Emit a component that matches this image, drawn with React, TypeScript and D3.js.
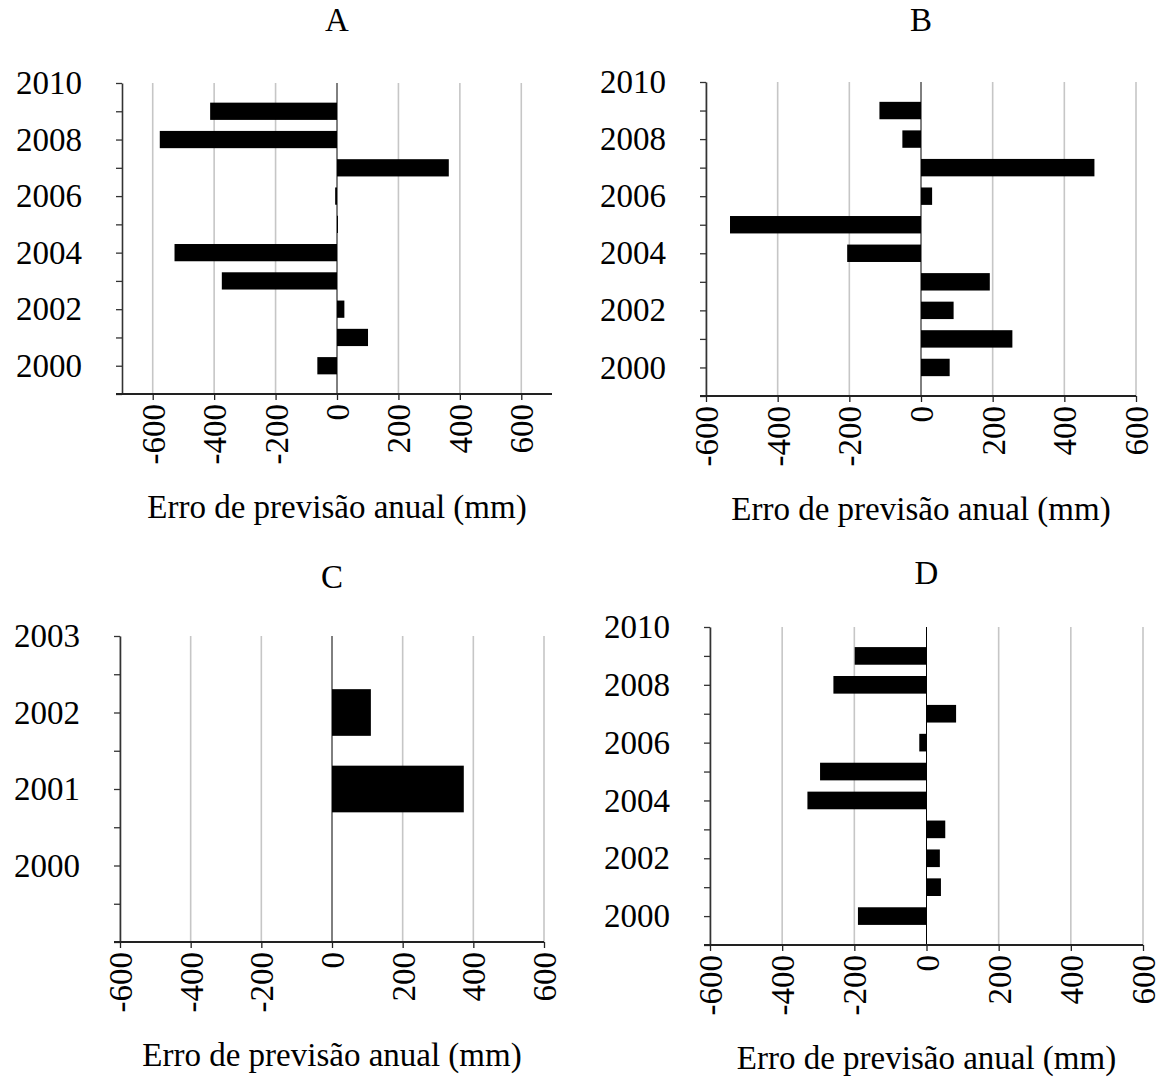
import React, { useEffect, useRef } from "react";
import * as d3 from "d3";

const width = 1161;
const height = 1080;
const font = "'Liberation Serif', 'Times New Roman', serif";

// annual forecast error (mm), one bar per year
const years = [2000, 2001, 2002, 2003, 2004, 2005, 2006, 2007, 2008, 2009];
const errorsA = [-64, 101, 24, -375, -529, 3, -6, 364, -577, -413];
const errorsB = [80, 255, 91, 192, -206, -533, 31, 484, -52, -116];
const yearsC = [2001, 2002];
const errorsC = [373, 110];
const errorsD = [-190, 40, 37, 52, -330, -295, -20, 82, -258, -199];

const xTicks = [-600, -400, -200, 0, 200, 400, 600];
const yearLabels = [2000, 2002, 2004, 2006, 2008, 2010];
const yearLabelsC = [2000, 2001, 2002, 2003];
const xTitle = "Erro de previsão anual (mm)";

const panels = [
  {
    title: "A", years, values: errorsA, xDomain: [-700, 700], yDomain: [1999, 2010],
    yStep: 1, labels: yearLabels, box: { left: 122, right: 552, top: 83, bottom: 394 }, titleY: 31,
  },
  {
    title: "B", years, values: errorsB, xDomain: [-600, 600], yDomain: [1999, 2010],
    yStep: 1, labels: yearLabels, box: { left: 706, right: 1136, top: 82, bottom: 396 }, titleY: 31,
  },
  {
    title: "C", years: yearsC, values: errorsC, xDomain: [-600, 600], yDomain: [1999, 2003],
    yStep: 0.5, labels: yearLabelsC, box: { left: 120, right: 544, top: 636, bottom: 942 }, titleY: 588,
  },
  {
    title: "D", years, values: errorsD, xDomain: [-600, 600], yDomain: [1999, 2010],
    yStep: 1, labels: yearLabels, box: { left: 710, right: 1143, top: 627, bottom: 945 }, titleY: 584,
  },
];

function Panel({ cfg }) {
  const ref = useRef(null);

  useEffect(() => {
    const g = d3.select(ref.current);
    g.selectAll("*").remove();
    const { left, right, top, bottom } = cfg.box;

    const x = d3.scaleLinear().domain(cfg.xDomain).range([left, right]);
    const y = d3.scaleLinear().domain(cfg.yDomain).range([bottom, top]);
    const yearBand = y(cfg.yDomain[0]) - y(cfg.yDomain[0] + 1);
    const barH = yearBand * 0.61;

    // vertical gridlines
    g.append("g")
      .selectAll("line")
      .data(xTicks.filter((t) => t !== 0))
      .join("line")
      .attr("x1", (d) => x(d))
      .attr("x2", (d) => x(d))
      .attr("y1", top)
      .attr("y2", bottom)
      .attr("stroke", "#c6c6c6")
      .attr("stroke-width", 1.6);

    // bars
    const rows = cfg.years.map((yr, i) => ({ yr, v: cfg.values[i] }));
    g.append("g")
      .selectAll("rect")
      .data(rows)
      .join("rect")
      .attr("x", (d) => x(Math.min(0, d.v)))
      .attr("width", (d) => Math.max(1, Math.abs(x(d.v) - x(0))))
      .attr("y", (d) => y(d.yr) - barH / 2)
      .attr("height", barH)
      .attr("fill", "#000");

    // zero line
    g.append("line")
      .attr("x1", x(0))
      .attr("x2", x(0))
      .attr("y1", top)
      .attr("y2", bottom)
      .attr("stroke", "#000")
      .attr("stroke-width", 1);

    // y axis
    const yTicks = d3.range(cfg.yDomain[0], cfg.yDomain[1] + cfg.yStep / 2, cfg.yStep);
    const yAxis = d3
      .axisLeft(y)
      .tickValues(yTicks)
      .tickSize(6)
      .tickSizeOuter(0)
      .tickPadding(34)
      .tickFormat((d) => (cfg.labels.includes(+d) ? String(d) : ""));
    const yg = g.append("g").attr("transform", `translate(${left},0)`).call(yAxis);
    yg.select(".domain").attr("stroke", "#333").attr("stroke-width", 1.6);
    yg.selectAll(".tick line").attr("stroke", "#333").attr("stroke-width", 1.3);
    yg.selectAll(".tick text")
      .attr("fill", "#000")
      .style("font-family", font)
      .style("font-size", "33px");

    // x axis
    const xAxis = d3
      .axisBottom(x)
      .tickValues(xTicks)
      .tickSize(6)
      .tickSizeOuter(0)
      .tickFormat((d) => String(d));
    const xg = g.append("g").attr("transform", `translate(0,${bottom})`).call(xAxis);
    xg.select(".domain").remove();
    xg.append("line")
      .attr("x1", left - 6)
      .attr("x2", right)
      .attr("stroke", "#222")
      .attr("stroke-width", 1.8);
    xg.selectAll(".tick line").attr("stroke", "#222").attr("stroke-width", 1.3);
    xg.selectAll(".tick text")
      .attr("fill", "#000")
      .attr("transform", "rotate(-90)")
      .attr("x", -10)
      .attr("y", 0)
      .attr("dy", "0.35em")
      .style("text-anchor", "end")
      .style("font-family", font)
      .style("font-size", "33px");

    // axis title
    g.append("text")
      .attr("x", x(0))
      .attr("y", bottom + 124)
      .attr("text-anchor", "middle")
      .style("font-family", font)
      .style("font-size", "33px")
      .text(xTitle);

    // panel letter
    g.append("text")
      .attr("x", (left + right) / 2)
      .attr("y", cfg.titleY)
      .attr("text-anchor", "middle")
      .style("font-family", font)
      .style("font-size", "33px")
      .text(cfg.title);
  }, [cfg]);

  return <g ref={ref} />;
}

export default function App() {
  return (
    <svg
      width={width}
      height={height}
      style={{ position: "absolute", left: 0, top: 0, background: "#fff" }}
    >
      <rect width={width} height={height} fill="#fff" />
      {panels.map((p) => (
        <Panel key={p.title} cfg={p} />
      ))}
    </svg>
  );
}
